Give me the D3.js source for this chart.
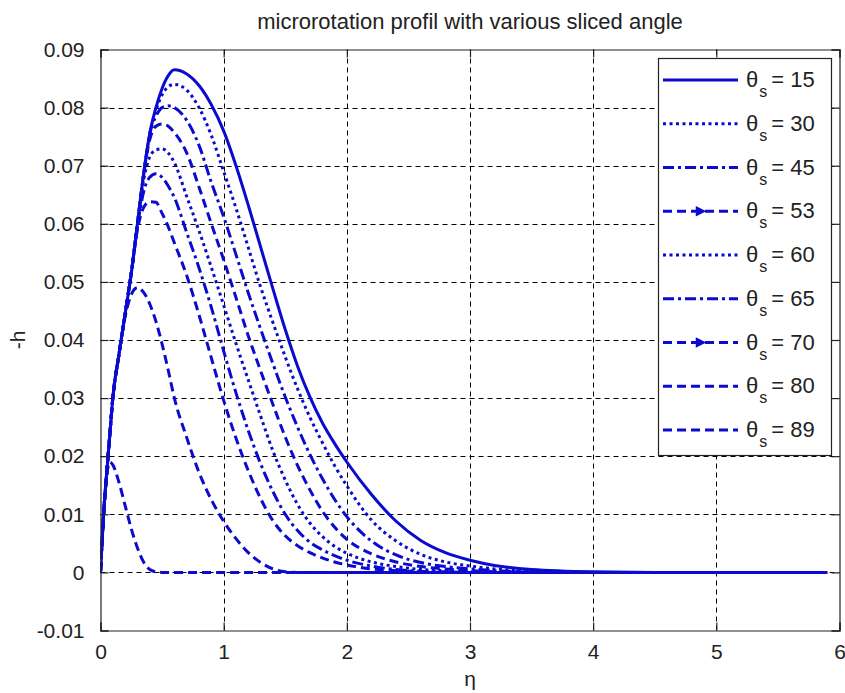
<!DOCTYPE html>
<html>
<head>
<meta charset="utf-8">
<script src="https://cdn.jsdelivr.net/npm/d3@7"></script>
<style>
html,body{margin:0;padding:0;background:#fff;}
svg{display:block;}
text{font-family:"Liberation Sans",Arial,Helvetica,sans-serif;fill:#222;}
</style>
</head>
<body>
<svg id="chart" width="845" height="693"></svg>
<script>
// ---- data ----
const eta = [0, 0.025, 0.05, 0.075, 0.1, 0.15, 0.2, 0.25, 0.3, 0.35, 0.4, 0.45, 0.5, 0.55, 0.6,
  0.7, 0.8, 0.9, 1.0, 1.1, 1.2, 1.3, 1.4, 1.5, 1.6, 1.7, 1.8, 1.9, 2.0,
  2.2, 2.4, 2.6, 2.8, 3.0, 3.2, 3.5, 4.0, 4.5, 5.0, 5.5, 5.9];

const h15 = [0, .010, .017, .0235, .030, .0375, .0445, .0515, .060, .0685, .0755, .080, .0833, .0855, .0865,
  .0858, .0838, .0805, .076, .070, .0632, .056, .0488, .0418, .0355, .0302, .0258, .0222, .019,
  .0134, .0088, .0055, .0034, .0021, .0012, .0005, .0001, 0, 0, 0, 0];
const h30 = [0, .010, .017, .0235, .030, .0375, .0445, .0515, .060, .0685, .0755, .0795, .0822, .0836, .084,
  .083, .080, .0752, .069, .0627, .0559, .0491, .043, .0371, .0316, .0267, .0224, .0184, .0149,
  .009, .0054, .0031, .0018, .0011, .0006, .0002, 0, 0, 0, 0, 0];
const h45 = [0, .010, .017, .0235, .030, .0375, .0445, .0515, .060, .0685, .0755, .0785, .080, .0803, .080,
  .0778, .0735, .0671, .0612, .0547, .0481, .0419, .0359, .0302, .025, .0203, .0162, .0126, .0096,
  .0054, .003, .0017, .001, .0006, .0003, .0001, 0, 0, 0, 0, 0];
const h53 = [0, .010, .017, .0235, .030, .0375, .0445, .0515, .060, .0685, .0745, .0768, .0772, .0768, .0757,
  .0722, .0663, .060, .0538, .0473, .0407, .0347, .0289, .0233, .0184, .0142, .0106, .0078, .0057,
  .0032, .0018, .001, .0006, .0003, .0001, 0, 0, 0, 0, 0, 0];
const h60 = [0, .010, .017, .0235, .030, .0375, .0445, .0515, .060, .0675, .0715, .0727, .0729, .0722, .0705,
  .0647, .0588, .0525, .046, .0394, .0331, .0269, .0209, .0159, .0117, .0085, .0062, .0045, .0033,
  .0018, .001, .0005, .0003, .0001, 0, 0, 0, 0, 0, 0, 0];
const h65 = [0, .010, .017, .0235, .030, .0375, .0445, .0515, .0595, .0655, .068, .0686, .068, .0665, .0645,
  .0585, .0524, .0456, .0381, .0309, .0244, .0187, .0139, .0100, .0072, .0052, .0039, .0029, .0021,
  .0011, .0005, .0002, .0001, 0, 0, 0, 0, 0, 0, 0, 0];
const h70 = [0, .010, .017, .0235, .030, .0375, .0445, .0515, .059, .0628, .0638, .0637, .0618, .0595, .0567,
  .0511, .0443, .0369, .0296, .0231, .0175, .0127, .0089, .0063, .0046, .0034, .0025, .0018, .0013,
  .0006, .0003, .0001, 0, 0, 0, 0, 0, 0, 0, 0, 0];
const h80 = [0, .010, .017, .0235, .030, .0375, .044, .0478, .049, .0482, .0462, .0432, .0393, .0348, .030,
  .0232, .0172, .0125, .0088, .0058, .0034, .0017, .0006, .0001, 0, 0, 0, 0, 0,
  0, 0, 0, 0, 0, 0, 0, 0, 0, 0, 0, 0];
const h89 = [0, .010, .0165, .019, .0185, .0155, .0115, .0075, .0042, .0018, .0005, .0001, 0, 0, 0,
  0, 0, 0, 0, 0, 0, 0, 0, 0, 0, 0, 0, 0, 0,
  0, 0, 0, 0, 0, 0, 0, 0, 0, 0, 0, 0];

const angles = [15, 30, 45, 53, 60, 65, 70, 80, 89];
const xTicks = [0, 1, 2, 3, 4, 5, 6];
const yTicks = [-0.01, 0, 0.01, 0.02, 0.03, 0.04, 0.05, 0.06, 0.07, 0.08, 0.09];
const titleText = "microrotation profil with various sliced angle";
const xLabel = "η";
const yLabel = "-h";

// ---- styling (not data) ----
const seriesVals = [h15, h30, h45, h53, h60, h65, h70, h80, h89];
const styles = [
  {dash: null, marker: false},
  {dash: "3,3.5", marker: false},
  {dash: "11,4,3,4", marker: false},
  {dash: "9,5", marker: true},
  {dash: "3,3.5", marker: false},
  {dash: "11,4,3,4", marker: false},
  {dash: "9,5", marker: true},
  {dash: "9,5", marker: false},
  {dash: "9,5", marker: false}
];
const blue = "#0b0bd0";
const FONT = 21;

const svg = d3.select("#chart");
const L = 100.5, R = 839.5, T = 49.5, B = 630.5;

const x = d3.scaleLinear().domain([0, 6]).range([L, R]);
const y = d3.scaleLinear().domain([-0.01, 0.09]).range([B, T]);

// grid
const grid = svg.append("g").attr("stroke", "#000").attr("stroke-width", 1).attr("stroke-dasharray", "5,4");
grid.selectAll("line.gx").data(xTicks.slice(1, -1)).join("line")
  .attr("x1", d => Math.round(x(d)) + 0.5).attr("x2", d => Math.round(x(d)) + 0.5)
  .attr("y1", T).attr("y2", B);
grid.selectAll("line.gy").data(yTicks.slice(1, -1)).join("line")
  .attr("y1", d => Math.round(y(d)) + 0.5).attr("y2", d => Math.round(y(d)) + 0.5)
  .attr("x1", L).attr("x2", R);

// curves
svg.append("defs").append("clipPath").attr("id", "clip")
  .append("rect").attr("x", L).attr("y", T).attr("width", R - L).attr("height", B - T);

const line = d3.line().x((d, i) => x(eta[i])).y(d => y(d)).curve(d3.curveMonotoneX);
const curves = svg.append("g").attr("clip-path", "url(#clip)");
seriesVals.forEach((vals, k) => {
  curves.append("path")
    .attr("d", line(vals))
    .attr("fill", "none")
    .attr("stroke", blue)
    .attr("stroke-width", 3)
    .attr("stroke-linejoin", "round")
    .attr("stroke-dasharray", styles[k].dash);
});

// axes box
const xAxisB = d3.axisBottom(x).tickValues(xTicks).tickSize(-8).tickPadding(14).tickFormat(d3.format("d"));
const xAxisT = d3.axisTop(x).tickValues(xTicks).tickSize(-8).tickFormat("");
const yAxisL = d3.axisLeft(y).tickValues(yTicks).tickSize(-8).tickPadding(16)
  .tickFormat(d => d === 0 ? "0" : d.toFixed(2));
const yAxisR = d3.axisRight(y).tickValues(yTicks).tickSize(-8).tickFormat("");

function styleAxis(g) {
  g.select(".domain").attr("stroke", "#222").attr("stroke-width", 1.2);
  g.selectAll(".tick line").attr("stroke", "#222").attr("stroke-width", 1.2);
  g.selectAll(".tick text").attr("font-size", FONT).attr("fill", "#222")
    .attr("font-family", '"Liberation Sans",Arial,sans-serif');
}
svg.append("g").attr("transform", `translate(0,${B})`).call(xAxisB).call(styleAxis);
svg.append("g").attr("transform", `translate(0,${T})`).call(xAxisT).call(styleAxis);
svg.append("g").attr("transform", `translate(${L},0)`).call(yAxisL).call(styleAxis);
svg.append("g").attr("transform", `translate(${R},0)`).call(yAxisR).call(styleAxis);

// title & labels
svg.append("text").attr("x", (L + R) / 2).attr("y", 29).attr("text-anchor", "middle")
  .attr("font-size", 22).text(titleText);
svg.append("text").attr("x", (L + R) / 2).attr("y", 686).attr("text-anchor", "middle")
  .attr("font-size", FONT).text(xLabel);
svg.append("text").attr("transform", `translate(25,${(T + B) / 2}) rotate(-90)`)
  .attr("text-anchor", "middle").attr("font-size", FONT).text(yLabel);

// legend
const lg = svg.append("g");
const LX0 = 658.5, LX1 = 831.5, LY0 = 58.5, LY1 = 455.5;
lg.append("rect").attr("x", LX0).attr("y", LY0).attr("width", LX1 - LX0).attr("height", LY1 - LY0)
  .attr("fill", "#fff").attr("stroke", "#222").attr("stroke-width", 1.2);
const rowY = d3.scalePoint().domain(angles).range([80, 430]);
angles.forEach((a, k) => {
  const yy = rowY(a);
  lg.append("line").attr("x1", 663).attr("x2", 738).attr("y1", yy).attr("y2", yy)
    .attr("stroke", blue).attr("stroke-width", 3).attr("stroke-dasharray", styles[k].dash);
  if (styles[k].marker) {
    lg.append("path").attr("transform", `translate(${(663 + 738) / 2},${yy})`)
      .attr("d", "M-4,-4L4,0L-4,4Z").attr("fill", blue).attr("stroke", blue).attr("stroke-width", 1.5);
  }
  const t = lg.append("text").attr("x", 746).attr("y", yy + 7).attr("font-size", 22);
  t.append("tspan").text("θ");
  t.append("tspan").attr("dy", 10).attr("dx", 1).attr("font-size", 16).text("s");
  t.append("tspan").attr("dy", -10).attr("dx", 4).text("= " + a);
});
</script>
</body>
</html>
